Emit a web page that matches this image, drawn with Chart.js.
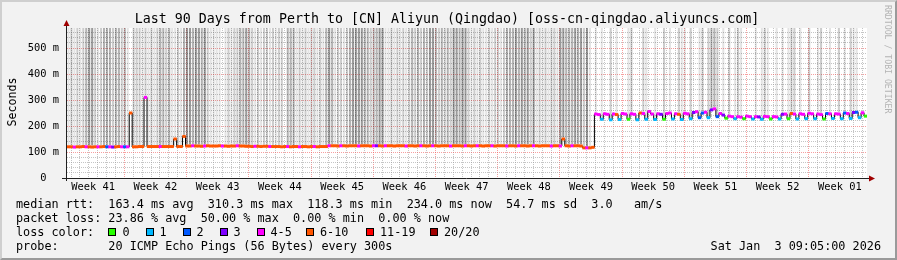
<!DOCTYPE html>
<html><head><meta charset="utf-8">
<script src="https://cdn.jsdelivr.net/npm/chart.js@4.4.1/dist/chart.umd.min.js"></script>
<style>
html,body{margin:0;padding:0;}
body{width:897px;height:260px;overflow:hidden;position:relative;}
#frame{position:absolute;left:0;top:0;width:897px;height:260px;box-sizing:border-box;background:#f2f2f2;border-top:2px solid #cfcfcf;border-left:2px solid #cfcfcf;border-right:2px solid #9a9a9a;border-bottom:2px solid #9a9a9a;}
#c{position:absolute;left:0;top:0;}
.t{position:absolute;font-family:"DejaVu Sans Mono",monospace;color:#000;white-space:pre;font-size:11.8px;line-height:14px;}
.box{position:absolute;width:8px;height:8px;box-sizing:border-box;border:1px solid #000;top:228px;}
</style></head>
<body>
<div id="frame"></div>
<canvas id="c" width="897" height="260"></canvas>
<div class="t" id="title" style="left:0;width:894px;text-align:center;top:11px;font-size:13.3px;line-height:16px;"></div>
<div class="t" id="ylab" style="left:-18px;top:95px;width:60px;text-align:center;font-size:11.6px;transform:rotate(-90deg);"></div>
<div class="t" id="rrd" style="left:883px;top:5px;font-size:8.2px;line-height:9px;color:#b4b4b4;writing-mode:vertical-rl;"></div>
<div class="t" id="l1" style="left:16px;top:197px;"></div>
<div class="t" id="l2" style="left:16px;top:211px;"></div>
<div class="t" id="l3" style="left:16px;top:225px;"></div>
<div class="t" id="l4" style="left:16px;top:239px;"></div>
<div class="t" id="date" style="right:16px;top:239px;"></div>
<div id="legend"></div>
<script>
// ---------- data ----------
const titleText = 'Last 90 Days from Perth to [CN] Aliyun (Qingdao) [oss-cn-qingdao.aliyuncs.com]';
const yAxisTitle = 'Seconds';
const weekLabels = ['Week 41','Week 42','Week 43','Week 44','Week 45','Week 46','Week 47','Week 48','Week 49','Week 50','Week 51','Week 52','Week 01'];
const yLabelValues = [100, 200, 300, 400, 500];
const yMax = 577;            // ms at top of plot
const spanDays = 90;
const firstWeekStart = 6.45; // days from left edge to first week boundary

// median rtt (ms), one value per 8-hour column (270 columns)
const median = [
 120,120,119,120,120,121,120,120,119,120,
 120,120,121,120,120,119,120,121,120,120,
 120,250,120,120,121,121,310,121,121,121,
 121,121,121,121,121,121,150,121,121,160,
 123,123,124,123,123,122,123,124,123,123,
 123,124,123,123,122,123,123,124,123,123,
 122,122,121,122,122,121,122,122,121,121,
 121,121,120,121,121,120,121,121,120,121,
 121,120,121,121,120,121,121,121,124,124,
 124,123,124,124,123,124,124,124,123,124,
 124,124,123,124,124,124,123,124,124,124,
 123,124,124,124,123,124,124,123,124,124,
 124,123,124,124,124,123,124,124,124,123,
 124,124,124,123,124,124,123,124,124,124,
 123,124,124,124,123,124,124,124,123,124,
 124,123,124,124,124,123,124,124,124,123,
 124,124,124,123,124,124,123,150,124,123,
 124,124,124,123,116,116,116,118,
 246,244,226, 247,245,224, 246,244,225, 248,246,226,
 247,245,224, 250,248,226, 256,246,225, 247,245,226,
 248,250,227, 247,245,225, 249,247,228, 252,255,232,
 250,253,232, 262,266,236, 248,242,230, 238,236,228,
 236,234,228, 238,236,227, 236,235,226, 237,236,227,
 236,235,227, 245,246,228, 248,246,227, 247,245,228,
 249,247,228, 246,244,227, 248,247,229, 247,246,228,
 250,248,229, 252,253,232, 251,238
];
// loss bucket per column: 0:'0' 1:'1' 2:'2' 3:'3' 4:'4-5' 5:'6-10' 6:'11-19' 7:'20/20'
const loss = [
 5,5,4,5,5,5,4,5,5,5, 4,5,5,2,4,3,5,5,4,2, 4,5,5,5,5,5,4,5,5,5,
 5,4,5,5,5,5,5,5,5,5, 5,5,4,5,5,5,4,5,5,5, 5,5,4,5,5,5,5,4,5,5,
 5,5,5,4,5,5,5,5,4,5, 5,5,5,5,4,5,5,5,4,5, 5,5,5,4,5,5,5,5,4,5,
 5,5,4,5,5,5,5,5,4,5, 5,5,5,4,3,5,5,4,5,5, 5,5,5,5,4,5,5,5,5,4,
 5,5,5,4,5,5,5,5,5,4, 5,5,5,5,4,5,5,5,4,5, 5,5,5,4,5,5,5,5,4,5,
 5,5,4,5,5,5,5,4,5,5, 5,5,5,4,5,5,4,5,5,5, 4,5,5,5,5,4,5,5,
 4,4,1, 4,4,1, 4,5,1, 4,4,0,
 4,4,1, 5,4,1, 4,4,1, 4,3,0,
 4,4,1, 4,5,1, 4,4,1, 3,4,2,
 2,4,1, 3,4,2, 4,3,0, 4,4,1,
 4,4,0, 4,4,1, 4,3,1, 4,4,0,
 4,4,1, 3,4,0, 5,4,1, 4,4,1,
 4,4,1, 4,4,0, 2,4,1, 4,4,1,
 2,4,1, 3,2,1, 4,0
];
// smoke density per column (0 = none .. 4 = dark)
const smoke = [
 1,2,1,2,1,2,3,4,4,2, 1,2,3,3,3,2,3,3,2,3, 1,0,2,2,2,1,2,1,2,1,
 2,3,3,2,3,1,1,2,1,3, 4,4,3,4,4,3,4,2,1,1, 1,1,0,1,2,1,2,2,3,3,
 4,3,2,1,2,1,2,2,1,2, 1,2,2,0,3,3,3,1,2,1, 2,1,2,2,1,2,1,3,4,3,
 1,2,2,1,2,3,4,4,4,4, 3,3,2,3,3,4,4,1,1,2, 1,2,1,2,1,2,3,2,3,2,
 3,2,4,4,3,2,3,2,3,2, 4,4,3,4,4,2,1,2,1,2, 1,1,2,1,2,2,1,2,3,3,
 3,4,3,4,3,4,2,4,1,2, 1,2,1,2,2,1,4,4,3,3, 3,4,3,4,2,4,1,0,1,0,
 1,0,0,2,0,1,0,0,0,1, 2,0,0,0,2,1,0,0,1,0, 0,2,0,1,0,0,2,1,1,0,
 2,0,0,1,2,0,2,3,3,2, 0,1,0,2,0,1,2,1,0,0, 0,0,1,0,1,2,1,0,0,1,
 0,1,0,1,2,2,0,1,0,0, 2,0,0,1,2,0,0,1,0,0, 2,0,1,0,2,1,1,0,0,0
];
const lossLabels = ['0','1','2','3','4-5','6-10','11-19','20/20'];
const lossColors = ['#26ff00','#00b8ff','#0059ff','#7e00ff','#ff00ff','#ff5500','#ff0000','#a10000'];
const smokeColors = [null,'rgba(0,0,0,0.11)','rgba(0,0,0,0.2)','rgba(0,0,0,0.3)','rgba(0,0,0,0.4)'];

const statLines = [
 'median rtt:  163.4 ms avg  310.3 ms max  118.3 ms min  234.0 ms now  54.7 ms sd  3.0   am/s',
 'packet loss: 23.86 % avg  50.00 % max  0.00 % min  0.00 % now',
 'loss color:',
 'probe:       20 ICMP Echo Pings (56 Bytes) every 300s'
];
const dateText = 'Sat Jan  3 09:05:00 2026';
const creditText = 'RRDTOOL / TOBI OETIKER';

// ---------- text ----------
document.getElementById('title').textContent = titleText;
document.getElementById('ylab').textContent = yAxisTitle;
document.getElementById('rrd').textContent = creditText;
['l1','l2','l3','l4'].forEach((id,k)=>document.getElementById(id).textContent = statLines[k]);
document.getElementById('date').textContent = dateText;
const boxX = [108, 145.5, 182.5, 219.5, 256.5, 306, 366, 430];
const labX = [122.5, 159.5, 196.5, 233.5, 270.5, 320, 380, 444];
const lg = document.getElementById('legend');
lossLabels.forEach((lab,k)=>{
  const b = document.createElement('div'); b.className='box';
  b.style.left = boxX[k]+'px'; b.style.background = lossColors[k]; lg.appendChild(b);
  const t = document.createElement('div'); t.className='t';
  t.style.left = labX[k]+'px'; t.style.top='225px'; t.textContent = lab; lg.appendChild(t);
});

// ---------- chart ----------
const N = median.length;
const colDays = spanDays / N;
const pts = median.map((m,i)=>({x:(i+0.5)*colDays, y:m}));
const smokePts = [];
median.forEach((m,i)=>{ if (smoke[i]) smokePts.push({x:(i+0.5)*colDays, y:[m+6, yMax], s:smoke[i]}); });

const xTicks = [];
for (let v = firstWeekStart % 1; v < spanDays; v += 0.5) xTicks.push(v);
const yTicks = [];
for (let v = 0; v < yMax; v += 20) yTicks.push(v);

const MAJOR = 'rgba(240,80,80,0.55)';
const MINOR = 'rgba(150,150,150,0.55)';
const MONO = '"DejaVu Sans Mono", monospace';

const axesPlugin = {
  id:'axes',
  beforeDraw(chart){
    const {ctx, chartArea:a} = chart;
    ctx.save(); ctx.fillStyle = '#ffffff';
    ctx.fillRect(a.left, a.top, a.right-a.left, a.bottom-a.top);
    ctx.restore();
  },
  afterDraw(chart){
    const {ctx, chartArea:a} = chart;
    ctx.save();
    ctx.strokeStyle = '#202020'; ctx.lineWidth = 1;
    ctx.beginPath();
    ctx.moveTo(a.left-5, Math.round(a.bottom)+0.5); ctx.lineTo(a.right+4, Math.round(a.bottom)+0.5);
    ctx.moveTo(Math.round(a.left)-0.5, a.bottom+3); ctx.lineTo(Math.round(a.left)-0.5, a.top-4);
    ctx.stroke();
    ctx.fillStyle = '#a00000';
    const yb = Math.round(a.bottom)+0.5;
    ctx.beginPath(); ctx.moveTo(a.right+2, yb-3); ctx.lineTo(a.right+8, yb); ctx.lineTo(a.right+2, yb+3); ctx.closePath(); ctx.fill();
    const xl = Math.round(a.left)-0.5;
    ctx.beginPath(); ctx.moveTo(xl-3, a.top-2); ctx.lineTo(xl, a.top-8); ctx.lineTo(xl+3, a.top-2); ctx.closePath(); ctx.fill();
    ctx.restore();
  }
};

const dashR = colDays*800/spanDays/2 + 0.2;
new Chart(document.getElementById('c'), {
  type:'line',
  data:{datasets:[
    {type:'bar', data:smokePts, order:3, grouped:false, barPercentage:0.7, categoryPercentage:1,
     backgroundColor: c => smokeColors[c.raw ? c.raw.s : 0] || 'transparent', borderWidth:0},
    {type:'line', data:pts, order:2, borderColor:'#000', borderWidth:1, pointRadius:0, stepped:'middle', fill:false},
    {type:'line', data:pts, order:1, showLine:false, pointStyle:'line', pointRadius:dashR, pointHoverRadius:dashR,
     pointBorderWidth:3, pointBorderColor:loss.map(l=>lossColors[l]), pointBackgroundColor:loss.map(l=>lossColors[l])}
  ]},
  options:{
    responsive:false, animation:false, events:[],
    layout:{padding:{left:0, top:28, right:30, bottom:0}},
    plugins:{legend:{display:false}, tooltip:{enabled:false}, title:{display:false}},
    scales:{
      x:{type:'linear', min:0, max:spanDays, offset:false,
         afterBuildTicks: s => { s.ticks = xTicks.map(v=>({value:v})); },
         afterFit: s => { s.height = 82; s.paddingLeft = 0; s.paddingRight = 0; },
         grid:{offset:false, drawTicks:false, lineWidth:1,
           color: c => { const n = c.index; if (n % 2) return 'transparent'; const d = n/2; return ((d-6) % 7 === 0) ? MAJOR : MINOR; }},
         border:{display:false, dash:[1,1]},
         ticks:{autoSkip:false, maxRotation:0, minRotation:0, padding:3, color:'#000', font:{family:MONO, size:10.4},
           callback:(v,i)=> ((i-5) % 14 === 0 && i>=5) ? weekLabels[(i-5)/14] : ''}
      },
      y:{type:'linear', min:0, max:yMax,
         afterBuildTicks: s => { s.ticks = yTicks.map(v=>({value:v})); },
         afterFit: s => { s.width = 67; s.paddingTop = 0; s.paddingBottom = 0; },
         grid:{drawTicks:false, lineWidth:1,
           color: c => { const v = c.tick.value; if (v === 0) return 'transparent'; return v % 100 === 0 ? MAJOR : MINOR; }},
         border:{display:false, dash:[1,1]},
         ticks:{autoSkip:false, padding:8, color:'#000', font:{family:MONO, size:10.4},
           callback:(v)=> v === 0 ? '0  ' : (yLabelValues.includes(v) ? v + ' m' : '')}
      }
    }
  },
  plugins:[axesPlugin]
});
</script>
</body></html>
